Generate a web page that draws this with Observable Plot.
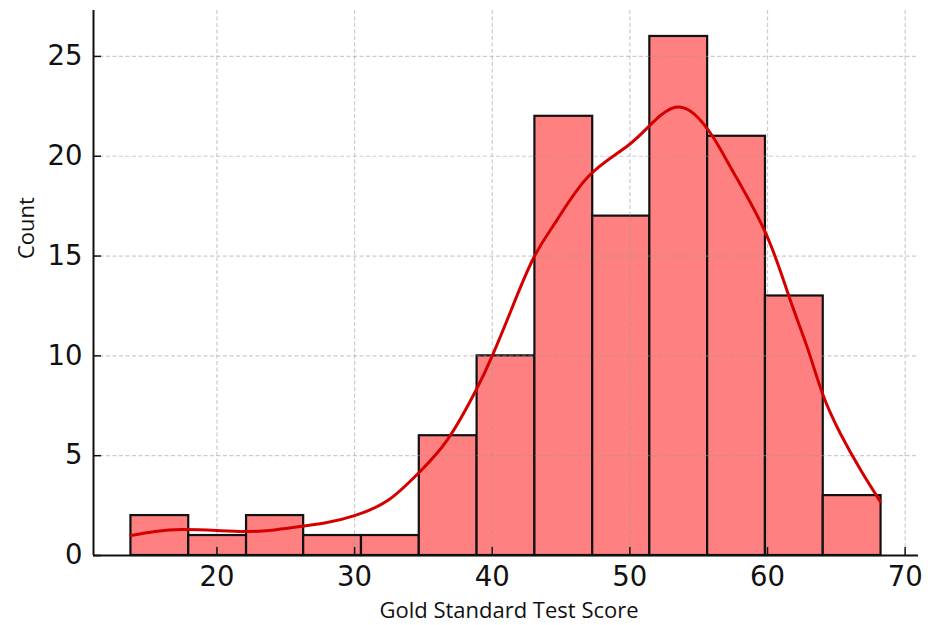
<!DOCTYPE html>
<html><head><meta charset="utf-8">
<script src="https://cdn.jsdelivr.net/npm/d3@7"></script>
<script src="https://cdn.jsdelivr.net/npm/@observablehq/plot@0.6"></script>
<style>body{margin:0;background:#fff}</style>
</head><body><div id="chart"></div>
<script>
// Histogram bin edges (score) and counts
const binEdges = [13.75, 17.95, 22.15, 26.3, 30.5, 34.7, 38.9, 43.1, 47.3, 51.45, 55.65, 59.85, 64.05, 68.25];
const counts = [2, 1, 2, 1, 1, 6, 10, 22, 17, 26, 21, 13, 3];
// KDE curve (in count units)
const kdeX = [13.75, 15.5, 17.5, 20, 22, 24, 26, 28, 30, 32.4, 34.7, 36.75, 38.8, 40, 41.35, 43, 44.7, 47, 49.8, 51.75, 53.3, 54.7, 56.1, 57.6, 59.9, 61.6, 62.9, 64, 65.3, 66.8, 68.2];
const kdeY = [1.0, 1.2, 1.3, 1.25, 1.2, 1.27, 1.45, 1.65, 2.0, 2.75, 4.17, 5.8, 8.25, 10.0, 12.25, 14.9, 16.8, 19.0, 20.5, 21.75, 22.45, 22.1, 20.9, 19.1, 16.1, 12.9, 10.4, 8.1, 6.1, 4.25, 2.7];
const xTicks = [20, 30, 40, 50, 60, 70];
const yTicks = [0, 5, 10, 15, 20, 25];
const xDomain = [11.03, 70.97];
const yDomain = [0, 27.3];
const xLabel = "Gold Standard Test Score";
const yLabel = "Count";

const bins = counts.map((c, i) => ({x1: binEdges[i], x2: binEdges[i + 1], count: c}));
const kde = kdeX.map((x, i) => ({x, y: kdeY[i]}));
const gridStyle = {stroke: "#9a9a9a", strokeOpacity: 0.5, strokeWidth: 1.2, strokeDasharray: "4,2.5"};

const plot = Plot.plot({
  width: 932, height: 625,
  marginLeft: 93, marginRight: 14, marginTop: 10, marginBottom: 70,
  style: {fontFamily: "DejaVu Sans", background: "white", color: "#111"},
  x: {domain: xDomain},
  y: {domain: yDomain},
  marks: [
    Plot.rectY(bins, {x1: "x1", x2: "x2", y: "count", fill: "#ff8080", stroke: "#111", strokeWidth: 2.2}),
    Plot.ruleX(xTicks, gridStyle),
    Plot.ruleY(yTicks.filter(d => d > 0), gridStyle),
    Plot.line(kde, {x: "x", y: "y", stroke: "#d40000", strokeWidth: 3, curve: "natural"}),
    Plot.ruleY([0], {stroke: "#111", strokeWidth: 2}),
    Plot.ruleX([xDomain[0]], {stroke: "#111", strokeWidth: 2}),
    Plot.axisX(xTicks, {tickSize: -8, tickPadding: 19, fontSize: 27.5, label: null, strokeWidth: 1.5}),
    Plot.axisY(yTicks, {tickSize: -8, tickPadding: 19, fontSize: 27.5, label: null, strokeWidth: 1.5}),
    Plot.text([xLabel], {frameAnchor: "bottom", lineAnchor: "middle", dx: 3, dy: 55.5, fontFamily: "Open Sans", fontSize: 22, fill: "#111"}),
    Plot.text([yLabel], {frameAnchor: "left", lineAnchor: "middle", rotate: -90, dx: -67, dy: -24, fontFamily: "Open Sans", fontSize: 22, fill: "#111"})
  ]
});
document.getElementById("chart").append(plot);
</script>
</body></html>
